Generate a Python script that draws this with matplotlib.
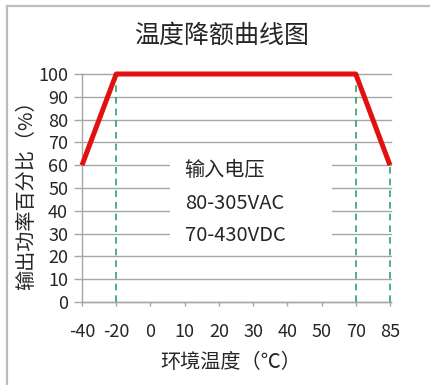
import matplotlib
matplotlib.use("Agg")
import matplotlib.pyplot as plt
from matplotlib.lines import Line2D

plt.rcParams['font.family'] = ['Noto Sans CJK SC', 'DejaVu Sans']

# Data
temps = ["-40", "-20", "0", "10", "20", "30", "40", "50", "70", "85"]
curve_temps = ["-40", "-20", "70", "85"]
curve_power = [60, 100, 100, 60]
dash_temps = ["-20", "70", "85"]
dash_tops = [100, 100, 60]
yticks = [0, 10, 20, 30, 40, 50, 60, 70, 80, 90, 100]
title = "温度降额曲线图"
xlabel = "环境温度（℃）"
ylabel = "输出功率百分比（%）"
box_lines = ["输入电压", "80-305VAC", "70-430VDC"]

W, H = 431, 385
fig = plt.figure(figsize=(W / 100, H / 100), dpi=100)
ax = fig.add_axes([82 / W, 1 - 302 / H, (391 - 82) / W, (302 - 74) / H])

idx = {t: i for i, t in enumerate(temps)}
grid_c = '#a6a6a6'
text_c = '#262626'

for y in yticks:
    ax.axhline(y, color=grid_c, lw=1.0, zorder=1, clip_on=False)

for t, top in zip(dash_temps, dash_tops):
    ax.plot([idx[t], idx[t]], [0, top], color='#2ea567', lw=1.2,
            ls=(0, (4, 3)), zorder=3)

ax.plot([idx[t] for t in curve_temps], curve_power, color='#e31010',
        lw=3.6, solid_capstyle='butt', solid_joinstyle='round',
        zorder=4, clip_on=False)

ax.set_xlim(0, 9.03)
ax.set_ylim(0, 100)
ax.set_xticks(range(len(temps)))
ax.set_xticklabels(temps)
ax.set_yticks(yticks)
for s in ['top', 'right']:
    ax.spines[s].set_visible(False)
for s in ['left', 'bottom']:
    ax.spines[s].set_color(grid_c)
    ax.spines[s].set_linewidth(1.0)
ax.tick_params(axis='y', length=6, width=1, color=grid_c, pad=4,
               labelsize=13, labelcolor=text_c)
ax.tick_params(axis='x', length=3, width=1, color=grid_c, pad=12,
               labelsize=13, labelcolor=text_c)

# text box
ax.add_patch(plt.Rectangle((2.57, 22), 7.31 - 2.57, 67 - 22,
                           facecolor='white', edgecolor='none', zorder=2))
for s, yv in zip(box_lines, [57.5, 43.3, 29]):
    ax.text(3.0, yv, s, fontsize=14.5, color=text_c, va='center', ha='left',
            zorder=5)

fig.text(222 / W, 1 - 36 / H, title, fontsize=18, color=text_c,
         ha='center', va='center', fontweight='medium')
fig.text(27 / W, 1 - 190 / H, ylabel, fontsize=14.5, color=text_c,
         rotation=90, ha='center', va='center', fontweight='medium')
fig.text(231 / W, 1 - 363 / H, xlabel, fontsize=14.5, color=text_c,
         ha='center', va='center', fontweight='medium')

# outer border
fig.add_artist(Line2D([7 / W, 1], [1 - 6 / H, 1 - 6 / H],
                      transform=fig.transFigure, color='#bdbdbd', lw=1.6))
fig.add_artist(Line2D([7 / W, 7 / W], [0, 1 - 6 / H],
                      transform=fig.transFigure, color='#bdbdbd', lw=1.6))

fig.savefig("out.png", dpi=100, facecolor='white')
